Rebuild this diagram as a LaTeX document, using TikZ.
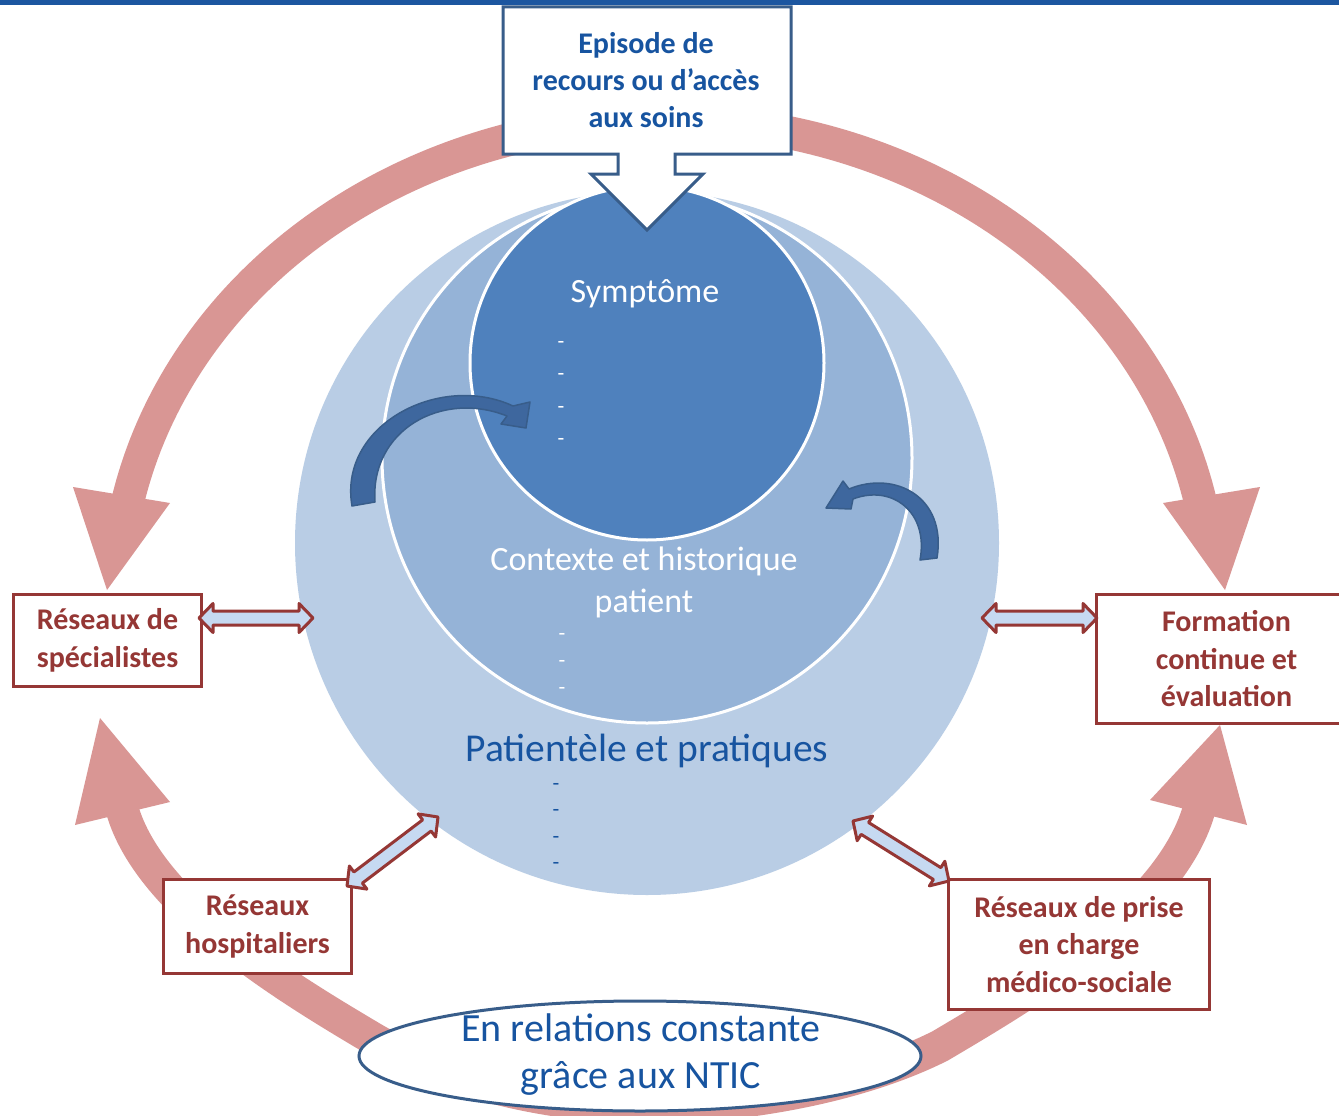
\documentclass[tikz,border=0pt]{standalone}
\usepackage{fontspec}
\setmainfont{Carlito}
\usetikzlibrary{calc,shapes.geometric}
\definecolor{ringpink}{RGB}{217,150,148}
\definecolor{circA}{RGB}{185,205,229}
\definecolor{circB}{RGB}{149,179,215}
\definecolor{circC}{RGB}{79,129,189}
\definecolor{darkred}{RGB}{149,55,53}
\definecolor{slate}{RGB}{56,93,138}
\definecolor{textblue}{RGB}{23,84,160}
\definecolor{lineblue}{RGB}{28,86,160}
\definecolor{paleblue}{RGB}{198,217,241}
\definecolor{arrblue}{RGB}{62,103,158}
\newcommand\linkarrow[2]{%
  \draw[linkarr] (#1)
   -- ($(#1)!14pt!(#2)!14.5pt!90:(#2)$)
   -- ($(#1)!14pt!(#2)!7pt!90:(#2)$)
   -- ($(#2)!14pt!(#1)!7pt!-90:(#1)$)
   -- ($(#2)!14pt!(#1)!14.5pt!-90:(#1)$)
   -- (#2)
   -- ($(#2)!14pt!(#1)!14.5pt!90:(#1)$)
   -- ($(#2)!14pt!(#1)!7pt!90:(#1)$)
   -- ($(#1)!14pt!(#2)!7pt!-90:(#2)$)
   -- ($(#1)!14pt!(#2)!14.5pt!-90:(#2)$)
   -- cycle;}
\begin{document}
\begin{tikzpicture}[x=1pt,y=-1pt,
  ring/.style={ringpink, line width=33pt},
  ringhead/.style={fill=ringpink, draw=none},
  redbox/.style={draw=darkred, line width=3pt, fill=white, text=darkred,
    font=\fontsize{30}{37.5}\selectfont\bfseries, align=center, inner sep=0pt,
    anchor=north west},
  linkarr/.style={draw=darkred, line width=3pt, fill=paleblue, line join=round},
  bendarr/.style={fill=arrblue, draw=slate, line width=1.5pt, line join=round},
  dashw/.style={text=white, font=\fontsize{22}{22}\selectfont, inner sep=0pt},
  dashb/.style={text=textblue, font=\fontsize{22}{22}\selectfont, inner sep=0pt},
  disc/.style={circle, inner sep=0pt}
]
\useasboundingbox (0,0) rectangle (1339,1116);
\fill[white] (0,0) rectangle (1339,1116);

% top rule
\draw[lineblue, line width=5.5pt] (0,2.75) -- (1339,2.75);

% ring of pink arrows
\draw[ring] plot[domain=100:168, samples=70] ({664+548*cos(\x)},{600-480*sin(\x)});
\fill[ringhead] (73,487) -- (170,503) -- (107,590) -- cycle;
\draw[ring] plot[domain=80:12, samples=70] ({664+548*cos(\x)},{600-480*sin(\x)});
\fill[ringhead] (1163,503) -- (1260,487) -- (1225,590) -- cycle;
\draw[ring] (121,805) .. controls (145,902) and (286,987) .. (372,1038)
  .. controls (450,1084) and (550,1106) .. (650,1108);
\fill[ringhead] (75,825) -- (100,718) -- (170,802) -- cycle;
\draw[ring] (1200,806) .. controls (1173,910) and (1026,995) .. (940,1046)
  .. controls (860,1086) and (750,1106) .. (650,1108);
\fill[ringhead] (1150,800) -- (1220,725) -- (1247,825) -- cycle;

% nested circles
\node[disc, fill=circA, minimum size=704pt] (outer) at (647,543) {};
\node[disc, fill=circB, draw=white, line width=3pt, minimum size=530pt] (middle) at (647,458) {};
\node[disc, fill=circC, draw=white, line width=3pt, minimum size=354pt] (inner) at (647,363) {};

% curved arrows inside
\draw[bendarr] (352,506) .. controls (338,425) and (440,372) .. (513,406)
  -- (530,402) -- (526,428) -- (501,424) -- (507,416)
  .. controls (442,390) and (370,430) .. (375,502) -- cycle;
\draw[bendarr] (937,558) .. controls (947,497) and (895,470) .. (849,489)
  -- (843,481) -- (826,508) -- (851,509) -- (853,499)
  .. controls (892,484) and (929,512) .. (920,560) -- cycle;

% circle texts
\node[text=white, font=\fontsize{34}{40}\selectfont, inner sep=0pt] (symp) at (645,294) {Symptôme};
\foreach \yy [count=\i] in {345,377,410,442} \node[dashw] (sd\i) at (561,\yy) {-};
\node[text=white, font=\fontsize{34}{42}\selectfont, align=center, inner sep=0pt] (ctx) at (644,582) {Contexte et historique\\patient};
\foreach \yy [count=\i] in {637,664,691} \node[dashw] (cd\i) at (562,\yy) {-};
\node[text=textblue, font=\fontsize{39.5}{44}\selectfont, inner sep=0pt] (pat) at (647,751) {Patientèle et pratiques};
\foreach \yy [count=\i] in {787,813,840,866} \node[dashb] (pd\i) at (556,\yy) {-};

% top callout
\draw[slate, line width=3pt, fill=white, line join=miter]
  (503,7) -- (791,7) -- (791,154) -- (675,154) -- (675,174) -- (703,174)
  -- (647,230) -- (591,174) -- (618,174) -- (618,154) -- (503,154) -- cycle;
\node[text=textblue, font=\fontsize{30}{37}\selectfont\bfseries, align=center, inner sep=0pt] (episode) at (646,80)
  {Episode de\\recours ou d’accès\\aux soins};

% red boxes
\node[redbox, minimum width=188pt, minimum height=92pt] (spec) at (12,593) {Réseaux de\\spécialistes};
\node[redbox, minimum width=260pt, minimum height=129pt] (form) at (1095,593) {Formation\\continue et\\évaluation};
\node[redbox, minimum width=188pt, minimum height=94pt] (hosp) at (162,878) {Réseaux\\hospitaliers};
\node[redbox, minimum width=261pt, minimum height=130pt] (medsoc) at (947,878) {Réseaux de prise\\en charge\\médico-sociale};

% double arrows
\coordinate (l1) at (199,618); \coordinate (l2) at (313,618);
\coordinate (r1) at (982,618); \coordinate (r2) at (1097,618);
\coordinate (h1) at (347,886); \coordinate (h2) at (438,817);
\coordinate (m1) at (853,821); \coordinate (m2) at (949,881);
\linkarrow{l1}{l2}
\linkarrow{r1}{r2}
\linkarrow{h1}{h2}
\linkarrow{m1}{m2}

% bottom ellipse
\node[ellipse, draw=slate, line width=3pt, fill=white, minimum width=562pt, minimum height=110pt, inner sep=0pt] (ntic) at (640,1056) {};
\node[text=textblue, font=\fontsize{40}{47}\selectfont, align=center, inner sep=0pt] (nticlabel) at (641,1055)
  {En relations constante\\grâce aux NTIC};
\end{tikzpicture}
\end{document}
